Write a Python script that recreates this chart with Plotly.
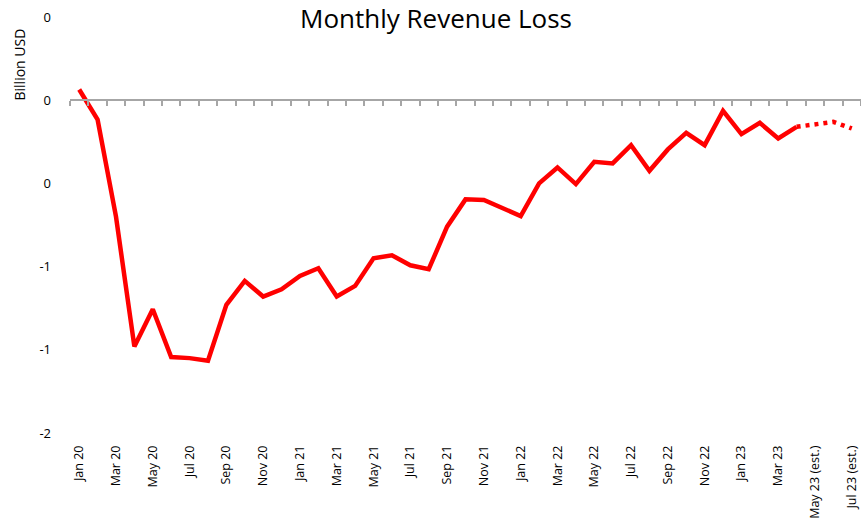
import plotly.graph_objects as go

months = [
    "Jan 20", "Feb 20", "Mar 20", "Apr 20", "May 20", "Jun 20", "Jul 20", "Aug 20", "Sep 20", "Oct 20", "Nov 20", "Dec 20",
    "Jan 21", "Feb 21", "Mar 21", "Apr 21", "May 21", "Jun 21", "Jul 21", "Aug 21", "Sep 21", "Oct 21", "Nov 21", "Dec 21",
    "Jan 22", "Feb 22", "Mar 22", "Apr 22", "May 22", "Jun 22", "Jul 22", "Aug 22", "Sep 22", "Oct 22", "Nov 22", "Dec 22",
    "Jan 23", "Feb 23", "Mar 23", "Apr 23", "May 23 (est.)", "Jun 23 (est.)", "Jul 23 (est.)",
]

actual_months = months[:40]
actual_values = [
    0.064, -0.116, -0.70, -1.48, -1.256, -1.544, -1.55, -1.566, -1.23, -1.086, -1.18, -1.136,
    -1.056, -1.01, -1.18, -1.116, -0.95, -0.932, -0.992, -1.016, -0.76, -0.596, -0.60, -0.646,
    -0.696, -0.50, -0.404, -0.504, -0.37, -0.38, -0.27, -0.424, -0.296, -0.196, -0.27, -0.064,
    -0.204, -0.136, -0.23, -0.16,
]

estimate_months = months[39:]
estimate_values = [-0.16, -0.145, -0.13, -0.17]

tick_labels = months[::2]

y_tick_values = [0.5, 0, -0.5, -1, -1.5, -2]
y_tick_text = ["0", "0", "0", "-1", "-1", "-2"]

y_range = [-2, 0.5]
x_range = [-0.5, len(months) - 0.5]
boundaries = [i - 0.5 for i in range(len(months) + 1)]

FONT = "Open Sans"
RED = "#FF0000"
GREY = "#A6A6A6"

W, H = 861, 528

fig = go.Figure()
fig.add_trace(go.Scatter(
    x=actual_months, y=actual_values, mode="lines",
    line=dict(color=RED, width=4.5), showlegend=False, hoverinfo="x+y",
))
fig.add_trace(go.Scatter(
    x=estimate_months, y=estimate_values, mode="lines",
    line=dict(color=RED, width=4.5, dash="4px,5px"), showlegend=False, hoverinfo="x+y",
))
# empty trace so the overlaid tick axis (zero line with boundary ticks) is drawn
fig.add_trace(go.Scatter(x=[], y=[], xaxis="x2", showlegend=False, hoverinfo="skip"))

fig.update_layout(
    width=W, height=H,
    margin=dict(l=70, r=0, t=17, b=95, autoexpand=False),
    paper_bgcolor="white", plot_bgcolor="white",
    font=dict(family=FONT, color="black"),
    title=dict(
        text="Monthly Revenue Loss", font=dict(family=FONT, size=26, color="black"),
        xref="container", x=436 / W, xanchor="center",
        yref="container", y=1 - 18.5 / H, yanchor="middle",
    ),
    xaxis=dict(
        type="category", categoryorder="array", categoryarray=months,
        range=x_range, tickmode="array", tickvals=tick_labels, ticktext=tick_labels,
        tickangle=-90, tickfont=dict(family=FONT, size=12.5, color="black"),
        showgrid=False, showline=False, ticks="", zeroline=False,
        ticklabelstandoff=9, automargin=False, ticklabeloverflow="allow",
    ),
    xaxis2=dict(
        overlaying="x", anchor="free",
        position=(0 - y_range[0]) / (y_range[1] - y_range[0]),
        range=x_range, tickmode="array", tickvals=boundaries,
        showticklabels=False, showgrid=False, zeroline=False,
        showline=True, linecolor=GREY, linewidth=1.5,
        ticks="outside", ticklen=5, tickcolor=GREY, tickwidth=1.5,
        automargin=False,
    ),
    yaxis=dict(
        range=y_range, tickmode="array", tickvals=y_tick_values, ticktext=y_tick_text,
        tickfont=dict(family=FONT, size=13, color="black"),
        showgrid=False, showline=False, zeroline=False, ticks="",
        ticklabelstandoff=18, automargin=False, ticklabeloverflow="allow",
    ),
    annotations=[dict(
        text="Billion USD", textangle=-90, showarrow=False,
        xref="paper", yref="paper",
        x=(18.5 - 70) / 791, y=(433 - 65) / 416,
        xanchor="center", yanchor="middle",
        font=dict(family=FONT, size=14, color="black"),
    )],
)

# remove the page's default body margin so the figure fills the window exactly
fig.write_html(
    "out.html",
    config={"displayModeBar": False},
    post_script="document.body.style.margin='0';document.body.style.overflow='hidden';",
)
